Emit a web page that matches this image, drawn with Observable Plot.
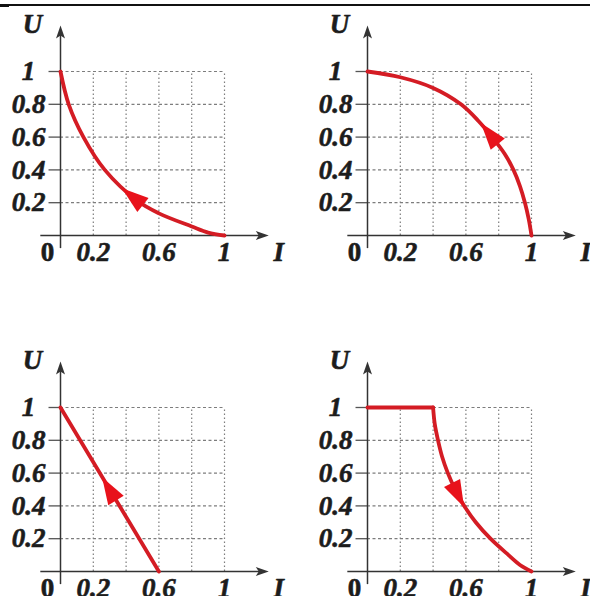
<!DOCTYPE html>
<html><head><meta charset="utf-8">
<script src="https://cdn.jsdelivr.net/npm/d3@7"></script>
<script src="https://cdn.jsdelivr.net/npm/@observablehq/plot@0.6"></script>
<style>
html,body{margin:0;padding:0;background:#fff;overflow:hidden;}
#wrap{position:relative;width:590px;height:596px;overflow:hidden;background:#fff;}
.topline{position:absolute;left:0;top:4px;width:590px;height:1.5px;background:#111;}
.topline2{position:absolute;left:0;top:4px;width:9px;height:2.5px;background:#111;}
</style></head>
<body><div id="wrap"><div class="topline"></div><div class="topline2"></div></div>
<script>
// ---- data ----
const gridTicks = [0.2, 0.4, 0.6, 0.8, 1];
const yTickValues = [0.2, 0.4, 0.6, 0.8, 1];
const yTickText = ["0.2", "0.4", "0.6", "0.8", "1"];
const xTickValues = [0.2, 0.6, 1];
const xTickText = ["0.2", "0.6", "1"];

// panel A (top-left): convex decreasing
const curveA_I = [0, 0.05, 0.14, 0.27, 0.47, 0.6, 0.8, 0.9, 1];
const curveA_U = [1, 0.8, 0.6, 0.4, 0.21, 0.135, 0.055, 0.018, 0];
// panel B (top-right): concave decreasing
const curveB_I = [0, 0.2, 0.4, 0.57, 0.675, 0.76, 0.835, 0.89, 0.93, 0.96, 0.983, 1];
const curveB_U = [1, 0.965, 0.9, 0.8, 0.7, 0.6, 0.5, 0.4, 0.3, 0.2, 0.1, 0];
// panel C (bottom-left): straight line
const curveC_I = [0, 0.6];
const curveC_U = [1, 0];
// panel D (bottom-right): flat then falling
const curveD_I = [0, 0.4, 0.41, 0.43, 0.455, 0.49, 0.535, 0.59, 0.66, 0.75, 0.86, 0.93, 1];
const curveD_U = [1, 1, 0.9, 0.8, 0.7, 0.6, 0.5, 0.4, 0.3, 0.2, 0.1, 0.04, 0];

// arrowheads on the curves (position and direction along curve: -1 toward start, +1 toward end)
const arrowI = [0.46, 0.76, 0.31, 0.54];
const arrowU = [0.22, 0.6, 0.48, 0.49];
const arrowDir = [-1, -1, -1, 1];

// ---- helpers ----
const RED = "#d41c24";
const RED_HEAD = "#e8121b";
const AXIS = "#333";
const GRID = "#7d7d7d";
const FONT = "'Liberation Serif', 'Times New Roman', serif";

function zip(I, U) { return I.map((v, i) => ({I: v, U: U[i]})); }

// red arrowhead, centroid at origin, pointing up
const redArrow = {
  draw(ctx) {
    const L = 27, hw = 9;
    ctx.moveTo(0, -L * 2 / 3);
    ctx.lineTo(hw, L / 3);
    ctx.lineTo(-hw, L / 3);
    ctx.closePath();
  }
};
// axis arrowhead, tip at origin, pointing up
const axisArrow = {
  draw(ctx) {
    ctx.moveTo(0, 0);
    ctx.lineTo(4.5, 13);
    ctx.lineTo(0, 10);
    ctx.lineTo(-4.5, 13);
    ctx.closePath();
  }
};

function tangentAngle(pts, x, y, dir) {
  let k = 0, best = Infinity;
  pts.forEach((p, i) => { const d = (p.I - x) ** 2 + (p.U - y) ** 2; if (d < best) { best = d; k = i; } });
  const a = pts[Math.max(0, k - 1)], b = pts[Math.min(pts.length - 1, k + 1)];
  const dx = (b.I - a.I) * dir, dy = (b.U - a.U) * dir;
  return Math.atan2(dx, dy) * 180 / Math.PI;
}

const xTip = 1.27, yTip = 1.28;

function panel(lines, arrowIdx, left, top) {
  const allPts = lines.flat();
  const arrows = [{I: arrowI[arrowIdx], U: arrowU[arrowIdx],
    angle: tangentAngle(allPts, arrowI[arrowIdx], arrowU[arrowIdx], arrowDir[arrowIdx])}];
  const lineRows = lines.flatMap((seg, s) => seg.map(p => ({...p, seg: s})));
  const textBase = {fontFamily: FONT, fontWeight: "bold", fontStyle: "italic", fontSize: 27,
    fill: "#1c1c1c", stroke: "#1c1c1c", strokeWidth: 0.6};
  const svg = Plot.plot({
    width: 295, height: 300,
    x: {domain: [0, 1], range: [60, 224], axis: null},
    y: {domain: [0, 1], range: [235, 71], axis: null},
    style: {background: "transparent", overflow: "visible"},
    marks: [
      Plot.ruleX(gridTicks, {x: d => d, y1: 0, y2: 1, stroke: GRID, strokeWidth: 1.2, strokeDasharray: "1.5,2.5"}),
      Plot.ruleY(gridTicks, {y: d => d, x1: 0, x2: 1, stroke: GRID, strokeWidth: 1.2, strokeDasharray: "3,2.5"}),
      Plot.ruleY(yTickValues, {y: d => d, x1: -0.07, x2: 0, stroke: "#555", strokeWidth: 1.3}),
      Plot.ruleX([0], {y1: -0.08, y2: yTip - 0.04, stroke: AXIS, strokeWidth: 1.5}),
      Plot.ruleY([0], {x1: -0.12, x2: xTip - 0.04, stroke: AXIS, strokeWidth: 1.5}),
      Plot.dot([{I: 0, U: yTip, r: 0}, {I: xTip, U: 0, r: 90}], {x: "I", y: "U", rotate: "r", symbol: axisArrow, fill: AXIS, stroke: "none"}),
      Plot.line(lineRows, {x: "I", y: "U", z: "seg", stroke: RED, strokeWidth: 3.8, curve: "catmull-rom", strokeLinejoin: "round", strokeLinecap: "round"}),
      Plot.dot(arrows, {x: "I", y: "U", rotate: "angle", symbol: redArrow, fill: RED_HEAD, stroke: "none"}),
      Plot.text(yTickValues, {x: 0, y: d => d, text: (d, i) => yTickText[i], dx: -32, textAnchor: "middle", ...textBase}),
      Plot.text(xTickValues, {x: d => d, y: 0, text: (d, i) => xTickText[i], dy: 17, textAnchor: "middle", ...textBase}),
      Plot.text([0], {x: 0, y: 0, text: ["0"], dx: -13, dy: 17, textAnchor: "middle", fontFamily: FONT, fontWeight: "bold", fontSize: 27, fill: "#1c1c1c", stroke: "#1c1c1c", strokeWidth: 0.6}),
      Plot.text([0], {x: xTip, y: 0, text: ["I"], dx: 10, dy: 17, textAnchor: "middle", ...textBase}),
      Plot.text([0], {x: 0, y: yTip, text: ["U"], dx: -28, dy: -1, textAnchor: "middle", ...textBase})
    ]
  });
  svg.style.position = "absolute";
  svg.style.left = left + "px";
  svg.style.top = top + "px";
  document.getElementById("wrap").appendChild(svg);
}

const ptsA = zip(curveA_I, curveA_U);
const ptsB = zip(curveB_I, curveB_U);
const ptsC = zip(curveC_I, curveC_U);
const ptsD = zip(curveD_I, curveD_U);

panel([ptsA], 0, 0, 0);
panel([ptsB], 1, 307, 0);
panel([ptsC], 2, 0, 336);
panel([ptsD.slice(0, 2), ptsD.slice(1)], 3, 307, 336);
</script>
</body></html>
